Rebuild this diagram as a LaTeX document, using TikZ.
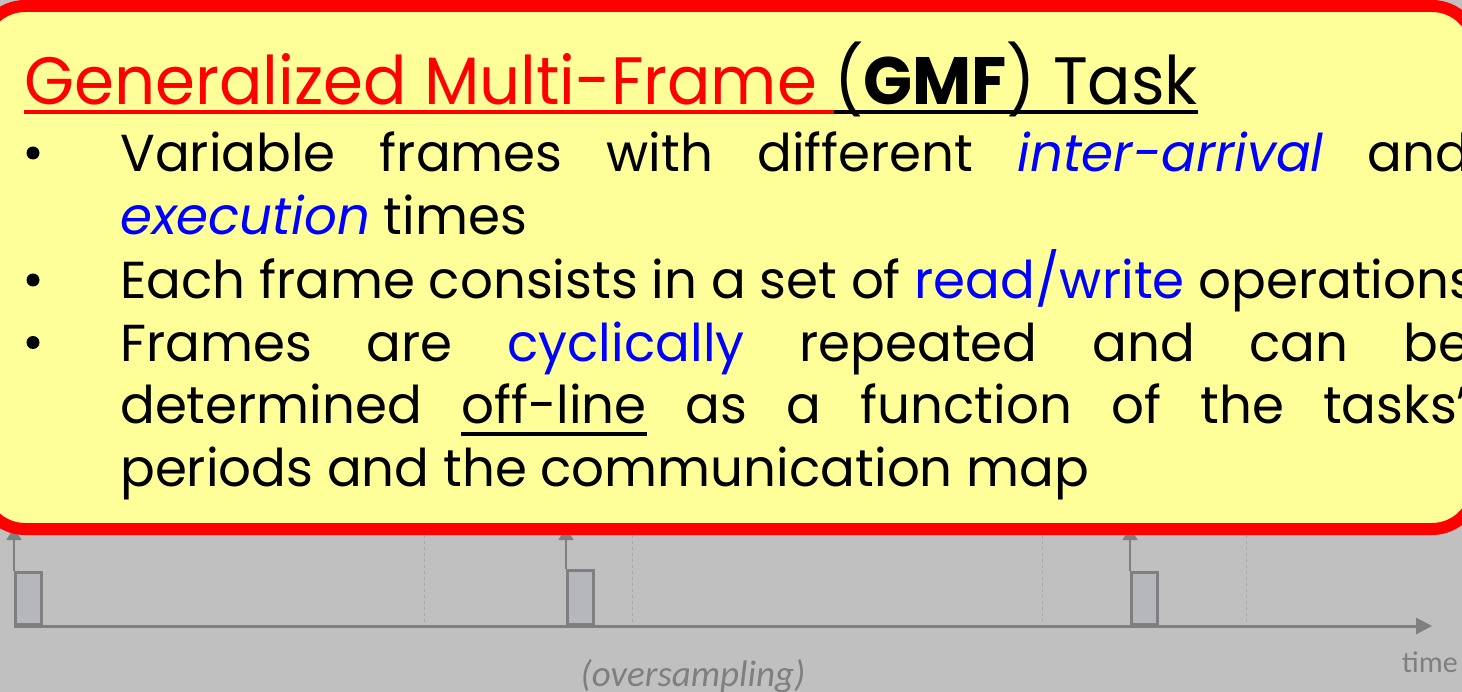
\documentclass[tikz,border=0pt]{standalone}
\usepackage{fontspec}
\setmainfont{Poppins}
\newfontfamily\labelfont{Carlito}
\usetikzlibrary{arrows.meta}

\definecolor{slidegray}{RGB}{192,192,192}
\definecolor{noteyellow}{RGB}{255,255,153}
\definecolor{axisgray}{RGB}{127,127,127}
\definecolor{jobfill}{RGB}{181,183,188}
\definecolor{gridgray}{RGB}{168,168,168}
\definecolor{termblue}{RGB}{0,0,255}
\definecolor{alertred}{RGB}{255,0,0}

% underline a piece of text with a rule of a given offset below the baseline
\newsavebox\ulbox
\newcommand\ulword[2]{\sbox\ulbox{#2}\rlap{\rule[#1]{\wd\ulbox}{3.5pt}}\usebox\ulbox}

\tikzset{
  axisline/.style={draw=axisgray, line width=3pt, -{Triangle[length=16pt,width=16pt]}},
  jobbox/.style={draw=axisgray, fill=jobfill, line width=3pt, minimum width=26pt,
                 minimum height=52pt, inner sep=0pt, anchor=south west},
  release/.style={draw=axisgray, line width=1.8pt, -{Triangle[length=12pt,width=15pt]}},
  gridline/.style={draw=gridgray, line width=1pt, dashed},
  notebox/.style={draw=alertred, fill=noteyellow, line width=12pt, rounded corners=44pt},
  titletext/.style={anchor=base west, inner sep=0pt,
                    font=\fontsize{67}{80}\selectfont\addfontfeatures{FakeStretch=0.96}},
  bodytext/.style={anchor=base west, inner sep=0pt,
                   font=\fontsize{52}{62}\selectfont\addfontfeatures{FakeStretch=0.99}},
  bulletdot/.style={circle, fill=black, inner sep=0pt, minimum size=13pt},
  axislabel/.style={inner sep=0pt, text=axisgray, font=\labelfont\fontsize{30}{36}\selectfont},
}

\begin{document}
\begin{tikzpicture}[x=1pt, y=-1pt]
\useasboundingbox (0,0) rectangle (1462,692);
\clip (0,0) rectangle (1462,692);
\fill[slidegray] (0,0) rectangle (1462,692);

% time line with the job releases
\foreach \gx in {424,632,1042,1246} \draw[gridline] (\gx,535) -- (\gx,626);
\coordinate (origin) at (14,626);
\coordinate (tend) at (1432,626);
\draw[axisline] (origin) -- (tend);

\node[jobbox] (j1) at (14,626) {};
\node[jobbox, minimum height=54pt] (j2) at (566,626) {};
\node[jobbox] (j3) at (1130,626) {};
\coordinate (r1) at (14,528);
\coordinate (r2) at (566,528);
\coordinate (r3) at (1130,528);
\draw[release] (j1.north west) -- (r1);
\draw[release] (j2.north west) -- (r2);
\draw[release] (j3.north west) -- (r3);

\node[axislabel, anchor=base, font=\labelfont\itshape\fontsize{37}{40}\selectfont] (over) at (693,686) {(oversampling)};
\node[axislabel, anchor=base west] (time) at (1402,672) {time};

% the note, running past both sides
\draw[notebox] (-19,6) rectangle (1476,529);

\node[titletext] (title) at (24,105)
  {{\color{alertred}\ulword{-9pt}{Generalized Multi-Frame\ }}\ulword{-9pt}{(\textbf{GMF}) Task}};

\node[bulletdot] (b1) at (33,153) {};
\node[bulletdot] (b2) at (33,280) {};
\node[bulletdot] (b3) at (33,342.5) {};

\node[bodytext] (l1) at (120,172)
  {\makebox[1350pt][s]{Variable frames with different {\color{termblue}\itshape inter-arrival} and}};
\node[bodytext] (l2) at (120,234.5)
  {{\color{termblue}\itshape execution} times};
\node[bodytext] (l3) at (120,299)
  {Each frame consists in a set of {\color{termblue}read/write} operations};
\node[bodytext] (l4) at (120,361.5)
  {\makebox[1350pt][s]{Frames are {\color{termblue}cyclically} repeated and can be}};
\node[bodytext] (l5) at (120,424)
  {\makebox[1348pt][s]{determined \ulword{-12pt}{off-line} as a function of the tasks’}};
\node[bodytext] (l6) at (120,486)
  {periods and the communication map};
\end{tikzpicture}
\end{document}
